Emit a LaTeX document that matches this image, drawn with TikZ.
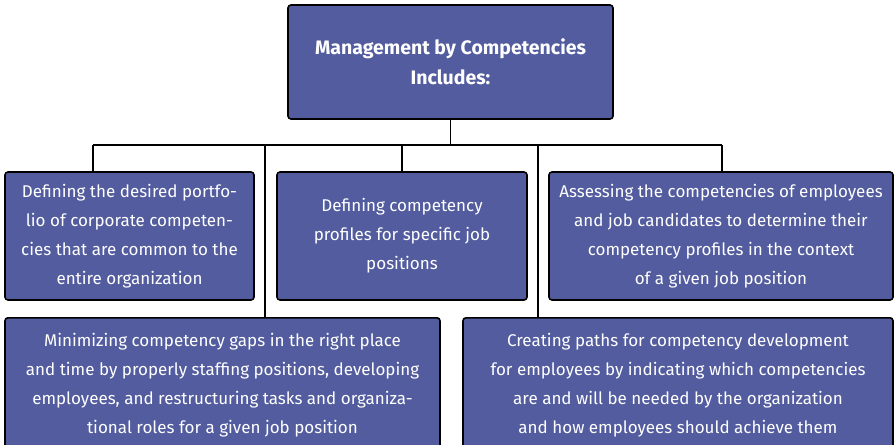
\documentclass[tikz,border=0pt]{standalone}
\usepackage{fontspec}
\setmainfont{Fira Sans}
\usepackage{tikz}
\usetikzlibrary{calc}

\definecolor{boxblue}{RGB}{82,92,158}

\begin{document}
\begin{tikzpicture}[x=1pt, y=-1pt,
    box/.style={draw=black, line width=1.6pt, fill=boxblue, rounded corners=3pt,
        text=white, align=center, inner sep=0pt,
        font=\fontsize{17}{29}\selectfont},
    link/.style={line width=1.5pt}]
    \useasboundingbox (0,0) rectangle (896,444);
    \clip (0,0) rectangle (896,444);

    % top box
    \node[box, minimum width=325pt, minimum height=114pt,
        font=\bfseries\fontsize{19.5}{30}\selectfont] (top) at (450.5,62)
        {Management by Competencies\\Includes:};

    % first row
    \node[box, minimum width=249pt, minimum height=128pt] (def1) at (129.5,236)
        {Defining the desired portfo-\\lio of corporate competen-\\cies that are common to the\\entire organization};
    \node[box, minimum width=250pt, minimum height=128pt] (def2) at (402,236)
        {Defining competency\\profiles for specific job\\positions};
    \node[box, minimum width=344pt, minimum height=128pt] (assess) at (721,236)
        {Assessing the competencies of employees\\and job candidates to determine their\\competency profiles in the context\\of a given job position};

    % second row
    \node[box, minimum width=435pt, minimum height=134pt, anchor=north] (gaps) at (222.5,317)
        {Minimizing competency gaps in the right place\\and time by properly staffing positions, developing\\employees, and restructuring tasks and organiza-\\tional roles for a given job position};
    \node[box, minimum width=430pt, minimum height=134pt, anchor=north] (paths) at (678,317)
        {Creating paths for competency development\\for employees by indicating which competencies\\are and will be needed by the organization\\and how employees should achieve them};

    % connectors
    \coordinate (busL) at (93,145);
    \coordinate (busR) at (722,145);
    \coordinate (toGaps) at (265,145);
    \coordinate (toPaths) at (538,145);
    \draw[link] (top.south) -- (top.south |- busL);
    \draw[link] (busL) -- (busR);
    \draw[link] (busL) -- (busL |- def1.north);
    \draw[link] (def2.north |- busL) -- (def2.north);
    \draw[link] (busR) -- (busR |- assess.north);
    \draw[link] (toGaps) -- (toGaps |- gaps.north);
    \draw[link] (toPaths) -- (toPaths |- paths.north);
\end{tikzpicture}
\end{document}
